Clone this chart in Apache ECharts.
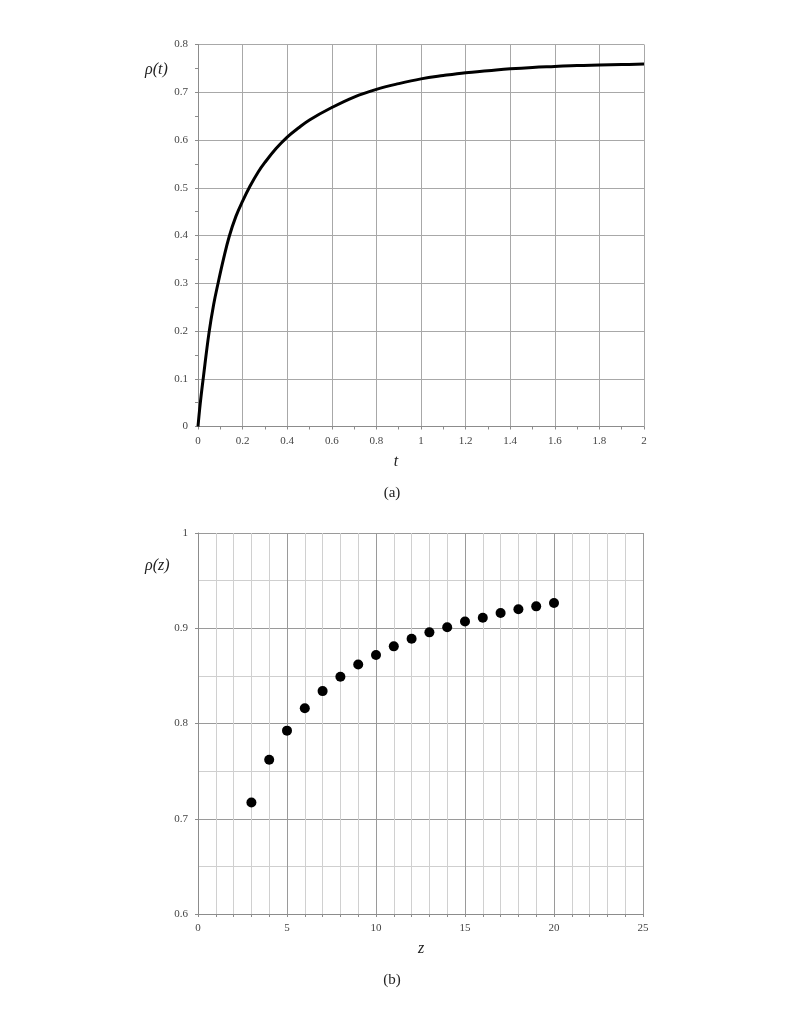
<!DOCTYPE html>
<html>
<head>
<meta charset="utf-8">
<script src="https://cdn.jsdelivr.net/npm/echarts@6/dist/echarts.min.js"></script>
<style>
html,body{margin:0;padding:0;background:#fff;}
#chart{width:785px;height:1020px;}
</style>
</head>
<body>
<div id="chart"></div>
<script>
// (a) rho(t) curve
var tVals = [0, 0.01, 0.024, 0.049, 0.07, 0.09, 0.115, 0.14, 0.17, 0.2, 0.233, 0.27, 0.3, 0.35, 0.4, 0.45, 0.5, 0.6, 0.7, 0.8, 0.9, 1.0, 1.1, 1.2, 1.3, 1.4, 1.5, 1.6, 1.7, 1.8, 1.9, 2.0];
var rhoT = [0, 0.048, 0.103, 0.195, 0.255, 0.3, 0.352, 0.398, 0.44, 0.472, 0.503, 0.533, 0.553, 0.582, 0.606, 0.625, 0.642, 0.668, 0.69, 0.706, 0.718, 0.728, 0.735, 0.741, 0.745, 0.749, 0.752, 0.754, 0.756, 0.757, 0.758, 0.759];

// (b) rho(z) points
var zVals = [3, 4, 5, 6, 7, 8, 9, 10, 11, 12, 13, 14, 15, 16, 17, 18, 19, 20];
var rhoZ = [0.717, 0.762, 0.7925, 0.816, 0.834, 0.849, 0.862, 0.872, 0.881, 0.889, 0.8957, 0.901, 0.907, 0.911, 0.916, 0.92, 0.923, 0.9265];

var lineData = tVals.map(function(t, i){ return [t, rhoT[i]]; });
var dotData = zVals.map(function(z, i){ return [z, rhoZ[i]]; });

var serif = "Liberation Serif";
var lbl = { fontFamily: serif, fontSize: 11, color: "#444" };
var axLine = { lineStyle: { color: "#8c8c8c", width: 1 } };

var myChart = echarts.init(document.getElementById("chart"));
var option = {
	backgroundColor: "#fff",
	animation: false,
	grid: [
		{ left: 198, top: 44.5, width: 446, height: 382 },
		{ left: 198, top: 533, width: 445, height: 381 }
	],
	xAxis: [
		{
			gridIndex: 0, type: "value", min: 0, max: 2, interval: 0.2,
			axisLine: axLine,
			axisTick: { show: true, length: 3, lineStyle: { color: "#8c8c8c" } },
			minorTick: { show: true, splitNumber: 2, length: 3, lineStyle: { color: "#8c8c8c" } },
			axisLabel: Object.assign({ margin: 9 }, lbl),
			splitLine: { show: true, lineStyle: { color: "#a8a8a8", width: 1 } }
		},
		{
			gridIndex: 1, type: "value", min: 0, max: 25, interval: 5,
			axisLine: axLine,
			axisTick: { show: true, length: 3, lineStyle: { color: "#8c8c8c" } },
			minorTick: { show: true, splitNumber: 5, length: 3, lineStyle: { color: "#8c8c8c" } },
			axisLabel: Object.assign({ margin: 9 }, lbl),
			splitLine: { show: true, lineStyle: { color: "#9a9a9a", width: 1 } },
			minorSplitLine: { show: true, lineStyle: { color: "#d0d0d0", width: 1 } }
		}
	],
	yAxis: [
		{
			gridIndex: 0, type: "value", min: 0, max: 0.8, interval: 0.1,
			axisLine: Object.assign({ show: true }, axLine),
			axisTick: { show: true, length: 3, lineStyle: { color: "#8c8c8c" } },
			minorTick: { show: true, splitNumber: 2, length: 3, lineStyle: { color: "#8c8c8c" } },
			axisLabel: Object.assign({ margin: 10 }, lbl),
			splitLine: { show: true, lineStyle: { color: "#a8a8a8", width: 1 } }
		},
		{
			gridIndex: 1, type: "value", min: 0.6, max: 1, interval: 0.1,
			axisLine: Object.assign({ show: true }, axLine),
			axisTick: { show: true, length: 3, lineStyle: { color: "#8c8c8c" } },
			axisLabel: Object.assign({ margin: 10 }, lbl),
			splitLine: { show: true, lineStyle: { color: "#9a9a9a", width: 1 } },
			minorSplitLine: { show: true, lineStyle: { color: "#cfcfcf", width: 1 } },
			minorTick: { show: false, splitNumber: 2 }
		}
	],
	series: [
		{
			type: "line", xAxisIndex: 0, yAxisIndex: 0,
			data: lineData, showSymbol: false, smooth: 0.4,
			lineStyle: { color: "#000", width: 3 }
		},
		{
			type: "scatter", xAxisIndex: 1, yAxisIndex: 1,
			data: dotData, symbolSize: 10,
			itemStyle: { color: "#000", opacity: 1 }
		}
	],
	graphic: [
		{ type: "text", left: 145, top: 62, style: { text: "ρ(t)", fontFamily: serif, fontStyle: "italic", fontSize: 16, fill: "#222" } },
		{ type: "text", left: 145, top: 558, style: { text: "ρ(z)", fontFamily: serif, fontStyle: "italic", fontSize: 16, fill: "#222" } },
		{ type: "text", x: 396, y: 462, style: { text: "t", fontFamily: serif, fontStyle: "italic", fontSize: 16, fill: "#222", align: "center", verticalAlign: "middle" } },
		{ type: "text", x: 421, y: 949, style: { text: "z", fontFamily: serif, fontStyle: "italic", fontSize: 16, fill: "#222", align: "center", verticalAlign: "middle" } },
		{ type: "text", x: 392, y: 493, style: { text: "(a)", fontFamily: serif, fontSize: 15, fill: "#222", align: "center", verticalAlign: "middle" } },
		{ type: "text", x: 392, y: 980, style: { text: "(b)", fontFamily: serif, fontSize: 15, fill: "#222", align: "center", verticalAlign: "middle" } }
	]
};
myChart.setOption(option);
</script>
</body>
</html>
